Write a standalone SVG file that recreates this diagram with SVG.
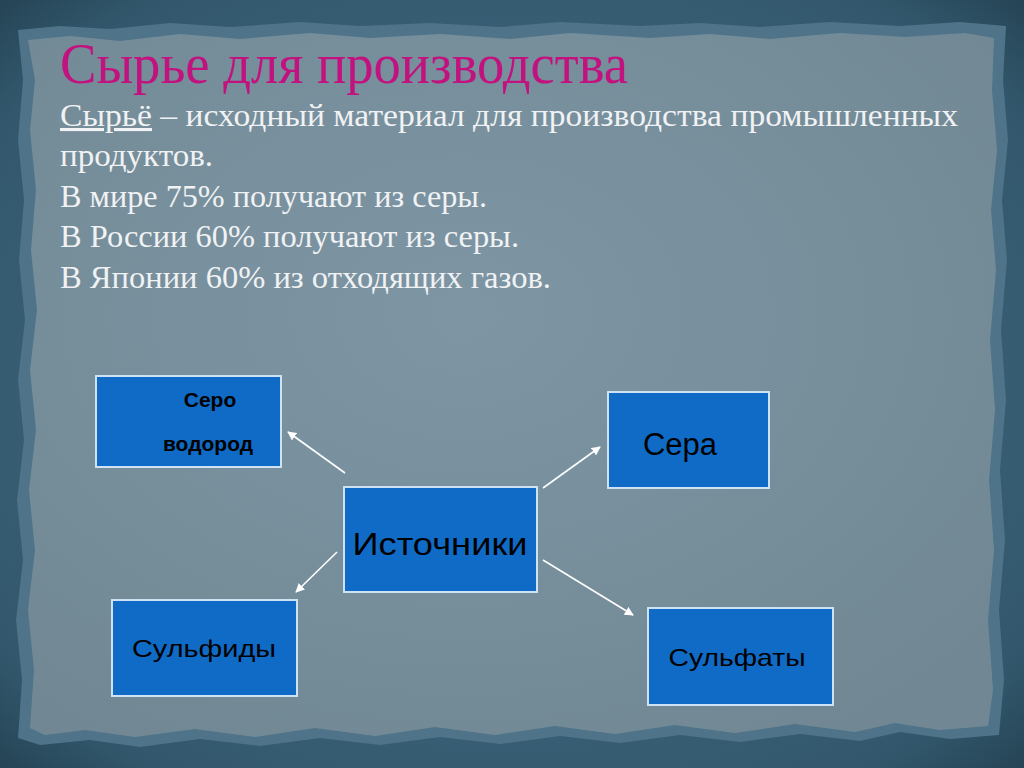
<svg xmlns="http://www.w3.org/2000/svg" width="1024" height="768" viewBox="0 0 1024 768">
  <defs>
    <radialGradient id="bg" cx="50%" cy="50%" r="75%">
      <stop offset="0" stop-color="#44708a"/>
      <stop offset="0.8" stop-color="#33586d"/>
      <stop offset="1" stop-color="#203d4c"/>
    </radialGradient>
    <radialGradient id="paper" cx="45%" cy="40%" r="70%">
      <stop offset="0" stop-color="#7e96a4"/>
      <stop offset="1" stop-color="#718894"/>
    </radialGradient>
    <marker id="ah" viewBox="0 0 10 10" refX="9" refY="5" markerWidth="9" markerHeight="9" orient="auto" markerUnits="userSpaceOnUse">
      <path d="M0,0 L10,5 L0,10 z" fill="#ffffff"/>
    </marker>
    <style>
      .box { fill: #0f6bc6; stroke: #cfe2f5; stroke-width: 2; }
      .lbl { font-family: "Liberation Sans", "DejaVu Sans", sans-serif; fill: #000000; }
      .body { font-family: "Liberation Serif", "DejaVu Serif", serif; font-size: 31px; fill: #f0f2f4; }
      .conn { stroke: #ffffff; stroke-width: 1.6; fill: none; marker-end: url(#ah); }
    </style>
  </defs>

  <!-- background -->
  <rect x="0" y="0" width="1024" height="768" fill="url(#bg)"/>
  <path d="M18,30 L60,26 L110,29 L170,23 L230,27 L300,22 L360,26 L430,23 L500,27 L560,22 L640,26 L700,23 L760,27 L830,22 L900,26 L960,22 L1006,26
           L1003,80 L1008,140 L1002,200 L1007,260 L1001,330 L1006,400 L1000,470 L1005,540 L999,610 L1004,680 L999,735
           L950,739 L900,732 L860,741 L800,734 L740,742 L680,735 L620,743 L560,736 L500,744 L440,737 L380,745 L320,738 L260,746 L200,739 L140,747 L90,740 L40,745 L18,738
           L22,680 L16,620 L23,560 L17,500 L24,440 L18,380 L25,320 L19,260 L24,200 L18,140 L23,80 Z" fill="#4f7389"/>
  <path d="M28,40 L70,36 L120,41 L180,34 L240,39 L310,33 L370,38 L440,34 L510,39 L570,33 L650,38 L710,34 L770,39 L840,33 L905,37 L965,33 L994,38
           L992,90 L997,150 L991,210 L996,270 L990,340 L995,410 L989,480 L994,550 L988,620 L993,690 L988,726
           L940,730 L895,723 L855,732 L795,724 L735,733 L675,725 L615,734 L555,726 L495,735 L435,727 L375,736 L315,728 L255,737 L195,729 L135,737 L85,730 L45,735 L30,728
           L34,670 L28,610 L35,550 L29,490 L36,430 L30,370 L37,310 L31,250 L36,190 L30,130 L35,80 Z" fill="url(#paper)"/>

  <!-- title and text -->
  <text x="60" y="83" font-family="Liberation Serif, DejaVu Serif, serif" font-size="58" fill="#c2127f" textLength="568" lengthAdjust="spacingAndGlyphs">Сырье для производства</text>
  <text class="body" x="60" y="126" textLength="898" lengthAdjust="spacingAndGlyphs"><tspan text-decoration="underline">Сырьё</tspan> – исходный материал для производства промышленных</text>
  <text class="body" x="60" y="166" textLength="153" lengthAdjust="spacingAndGlyphs">продуктов.</text>
  <text class="body" x="60" y="207" textLength="427" lengthAdjust="spacingAndGlyphs">В мире 75% получают из серы.</text>
  <text class="body" x="60" y="247" textLength="459" lengthAdjust="spacingAndGlyphs">В России 60% получают из серы.</text>
  <text class="body" x="60" y="288" textLength="491" lengthAdjust="spacingAndGlyphs">В Японии 60% из отходящих газов.</text>

  <!-- connectors -->
  <g id="connectors">
    <line class="conn" x1="345" y1="473" x2="288" y2="432"/>
    <line class="conn" x1="543" y1="488" x2="600" y2="447"/>
    <line class="conn" x1="337" y1="552" x2="296" y2="592"/>
    <line class="conn" x1="543" y1="560" x2="633" y2="615"/>
  </g>

  <!-- nodes -->
  <g id="node-serovodorod">
    <rect class="box" x="96" y="376" width="185" height="91"/>
    <text class="lbl" x="210" y="407" font-size="21" font-weight="bold" text-anchor="middle">Серо</text>
    <text class="lbl" x="208" y="451" font-size="21" font-weight="bold" text-anchor="middle">водород</text>
  </g>
  <g id="node-sera">
    <rect class="box" x="608" y="392" width="161" height="96"/>
    <text class="lbl" x="680" y="455" font-size="31" text-anchor="middle">Сера</text>
  </g>
  <g id="node-istochniki">
    <rect class="box" x="344" y="487" width="193" height="105"/>
    <text class="lbl" x="440" y="555" font-size="31" text-anchor="middle" textLength="175" lengthAdjust="spacingAndGlyphs">Источники</text>
  </g>
  <g id="node-sulfidy">
    <rect class="box" x="112" y="600" width="185" height="96"/>
    <text class="lbl" x="204" y="657" font-size="24" text-anchor="middle" textLength="144" lengthAdjust="spacingAndGlyphs">Сульфиды</text>
  </g>
  <g id="node-sulfaty">
    <rect class="box" x="648" y="608" width="185" height="97"/>
    <text class="lbl" x="737" y="666" font-size="24" text-anchor="middle" textLength="137" lengthAdjust="spacingAndGlyphs">Сульфаты</text>
  </g>
</svg>
